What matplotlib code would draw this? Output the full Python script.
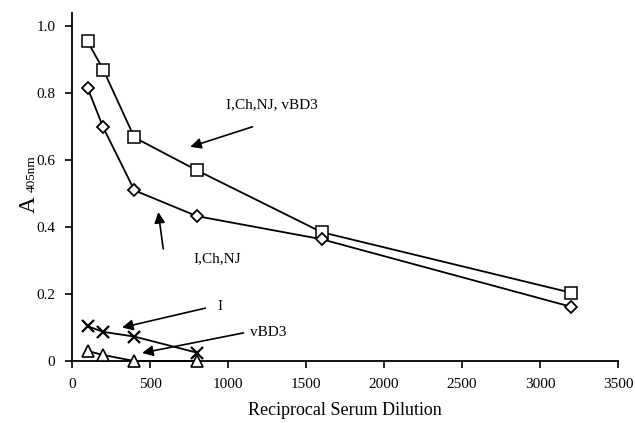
import numpy as np
import matplotlib
matplotlib.use("Agg")
import matplotlib.pyplot as plt

plt.rcParams['font.family'] = ['Liberation Serif', 'DejaVu Serif']

# reciprocal serum dilutions
dilution = [100, 200, 400, 800, 1600, 3200]

# A405nm readings per antigen
i_ch_nj_vbd3 = [0.955, 0.871, 0.668, 0.570, 0.385, 0.204]
i_ch_nj = [0.816, 0.698, 0.510, 0.433, 0.364, 0.162]
i_only = [0.104, 0.087, 0.073, 0.025]
vbd3 = [0.030, 0.018, 0.0, 0.0]

xticks = [0, 500, 1000, 1500, 2000, 2500, 3000, 3500]
yticks = [0, 0.2, 0.4, 0.6, 0.8, 1.0]
ytick_labels = ["0", "0.2", "0.4", "0.6", "0.8", "1.0"]

fig = plt.figure(figsize=(6.35, 4.23), dpi=100)
ax = fig.add_axes([72/635, 1-361/423, (618-72)/635, (361-13)/423])

line_kw = dict(color='black', lw=1.3, markerfacecolor='white', markeredgecolor='black', clip_on=False)
ax.plot(dilution, i_ch_nj_vbd3, marker='s', markersize=8.5, markeredgewidth=1.1, **line_kw)
ax.plot(dilution, i_ch_nj, marker='D', markersize=6, markeredgewidth=1.3, **line_kw)
ax.plot(dilution[:4], i_only, marker='x', markersize=8, markeredgewidth=1.6, **line_kw)
ax.plot(dilution[:4], vbd3, marker='^', markersize=8.5, markeredgewidth=1.2, zorder=5, **line_kw)

ax.set_xlim(0, 3500)
ax.set_ylim(0, 1.04)
ax.set_xticks(xticks)
ax.set_yticks(yticks)
ax.set_yticklabels(ytick_labels)

for s in ['top', 'right']:
    ax.spines[s].set_visible(False)
for s in ['left', 'bottom']:
    ax.spines[s].set_linewidth(1.3)
ax.tick_params(direction='out', length=5, width=1.2, labelsize=11, pad=7)

ax.set_xlabel("Reciprocal Serum Dilution", fontsize=13, labelpad=8)

# y label: big A with smaller 405nm on same baseline
fig.text(35/635, 1-213/423, "A", fontsize=17, rotation=90, rotation_mode='anchor',
         ha='left', va='baseline')
fig.text(35/635, 1-192/423, "405nm", fontsize=9.5, rotation=90, rotation_mode='anchor',
         ha='left', va='baseline')

arrow = dict(arrowstyle='-|>', color='black', lw=1.2, mutation_scale=16, shrinkA=0, shrinkB=0)
ax.annotate("I,Ch,NJ, vBD3", xy=(758, 0.64), xytext=(1575, 0.765), fontsize=11,
            ha='right', va='center')
ax.annotate("", xy=(758, 0.64), xytext=(1157, 0.70), arrowprops=arrow)

ax.annotate("I,Ch,NJ", xy=(777, 0.305), fontsize=11, ha='left', va='center')
ax.annotate("", xy=(553, 0.445), xytext=(585, 0.335), arrowprops=arrow)

ax.annotate("I", xy=(932, 0.164), fontsize=11, ha='left', va='center')
ax.annotate("", xy=(321, 0.10), xytext=(855, 0.158), arrowprops=arrow)

ax.annotate("vBD3", xy=(1144, 0.084), fontsize=11, ha='left', va='center')
ax.annotate("", xy=(450, 0.024), xytext=(1099, 0.084), arrowprops=arrow)

fig.savefig("out.png", dpi=100)
